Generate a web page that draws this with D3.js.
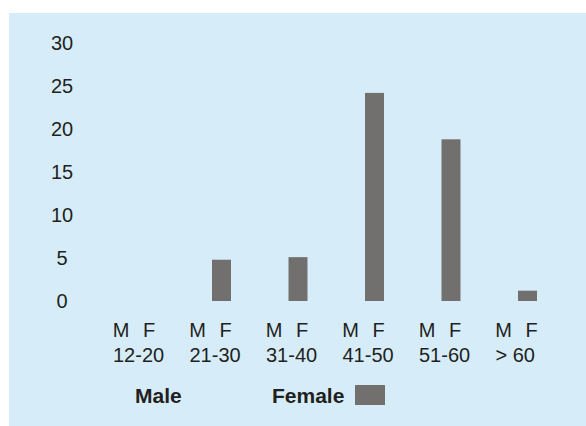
<!DOCTYPE html>
<html><head><meta charset="utf-8">
<script src="https://cdn.jsdelivr.net/npm/d3@7"></script>
<style>html,body{margin:0;padding:0;background:#fff;}svg{display:block;}</style>
</head><body>
<script>
const ageGroups = ["12-20", "21-30", "31-40", "41-50", "51-60", "> 60"];
const sexes = ["M", "F"];
const maleValues = [0, 0, 0, 0, 0, 0];
const femaleValues = [0, 4.8, 5.1, 24.2, 18.8, 1.2];
const yTicks = [0, 5, 10, 15, 20, 25, 30];
const legendLabels = ["Male", "Female"];

const W = 586, H = 426;
const bg = "#d6edf9", barColor = "#72706f", ink = "#231f20";
const font = "'Liberation Sans', Arial, Helvetica, sans-serif";

const svg = d3.select("body").append("svg").attr("width", W).attr("height", H);
svg.append("rect").attr("x", 9).attr("y", 13).attr("width", W - 9).attr("height", H - 13).attr("fill", bg);

const x = d3.scaleBand().domain(ageGroups).range([113, 113 + 76.5 * ageGroups.length]).padding(0);
const sub = d3.scalePoint().domain(sexes).range([8, 36]);
const y = d3.scaleLinear().domain([0, 30]).range([301, 43]);
const barW = 19;

// y tick labels
svg.append("g").selectAll("text").data(yTicks).join("text")
  .attr("x", 62).attr("y", d => y(d)).attr("dy", "0.35em")
  .attr("text-anchor", "middle").attr("font-family", font).attr("font-size", 20).attr("fill", ink)
  .text(d => d);

// bars
const series = [
  {key: "M", values: maleValues, color: bg},
  {key: "F", values: femaleValues, color: barColor}
];
series.forEach(s => {
  svg.append("g").selectAll("rect").data(ageGroups.map((g, i) => ({g, v: s.values[i]})).filter(d => d.v > 0)).join("rect")
    .attr("x", d => x(d.g) + sub(s.key) - 4 - barW / 2)
    .attr("y", d => y(d.v))
    .attr("width", barW)
    .attr("height", d => y(0) - y(d.v))
    .attr("fill", s.color);
});

// x labels
const xg = svg.append("g").attr("font-family", font).attr("font-size", 20).attr("fill", ink);
ageGroups.forEach(g => {
  sexes.forEach(s => {
    xg.append("text").attr("x", x(g) + sub(s)).attr("y", 337).attr("text-anchor", "middle").text(s);
  });
  xg.append("text").attr("x", x(g)).attr("y", 362).attr("text-anchor", "start").text(g);
});

// legend
const lg = svg.append("g").attr("font-family", font).attr("font-size", 21).attr("font-weight", "bold").attr("fill", ink);
lg.append("text").attr("x", 135).attr("y", 403).text(legendLabels[0]);
lg.append("text").attr("x", 272).attr("y", 403).text(legendLabels[1]);
lg.append("rect").attr("x", 355).attr("y", 385).attr("width", 30).attr("height", 20).attr("fill", barColor);
</script>
</body></html>
